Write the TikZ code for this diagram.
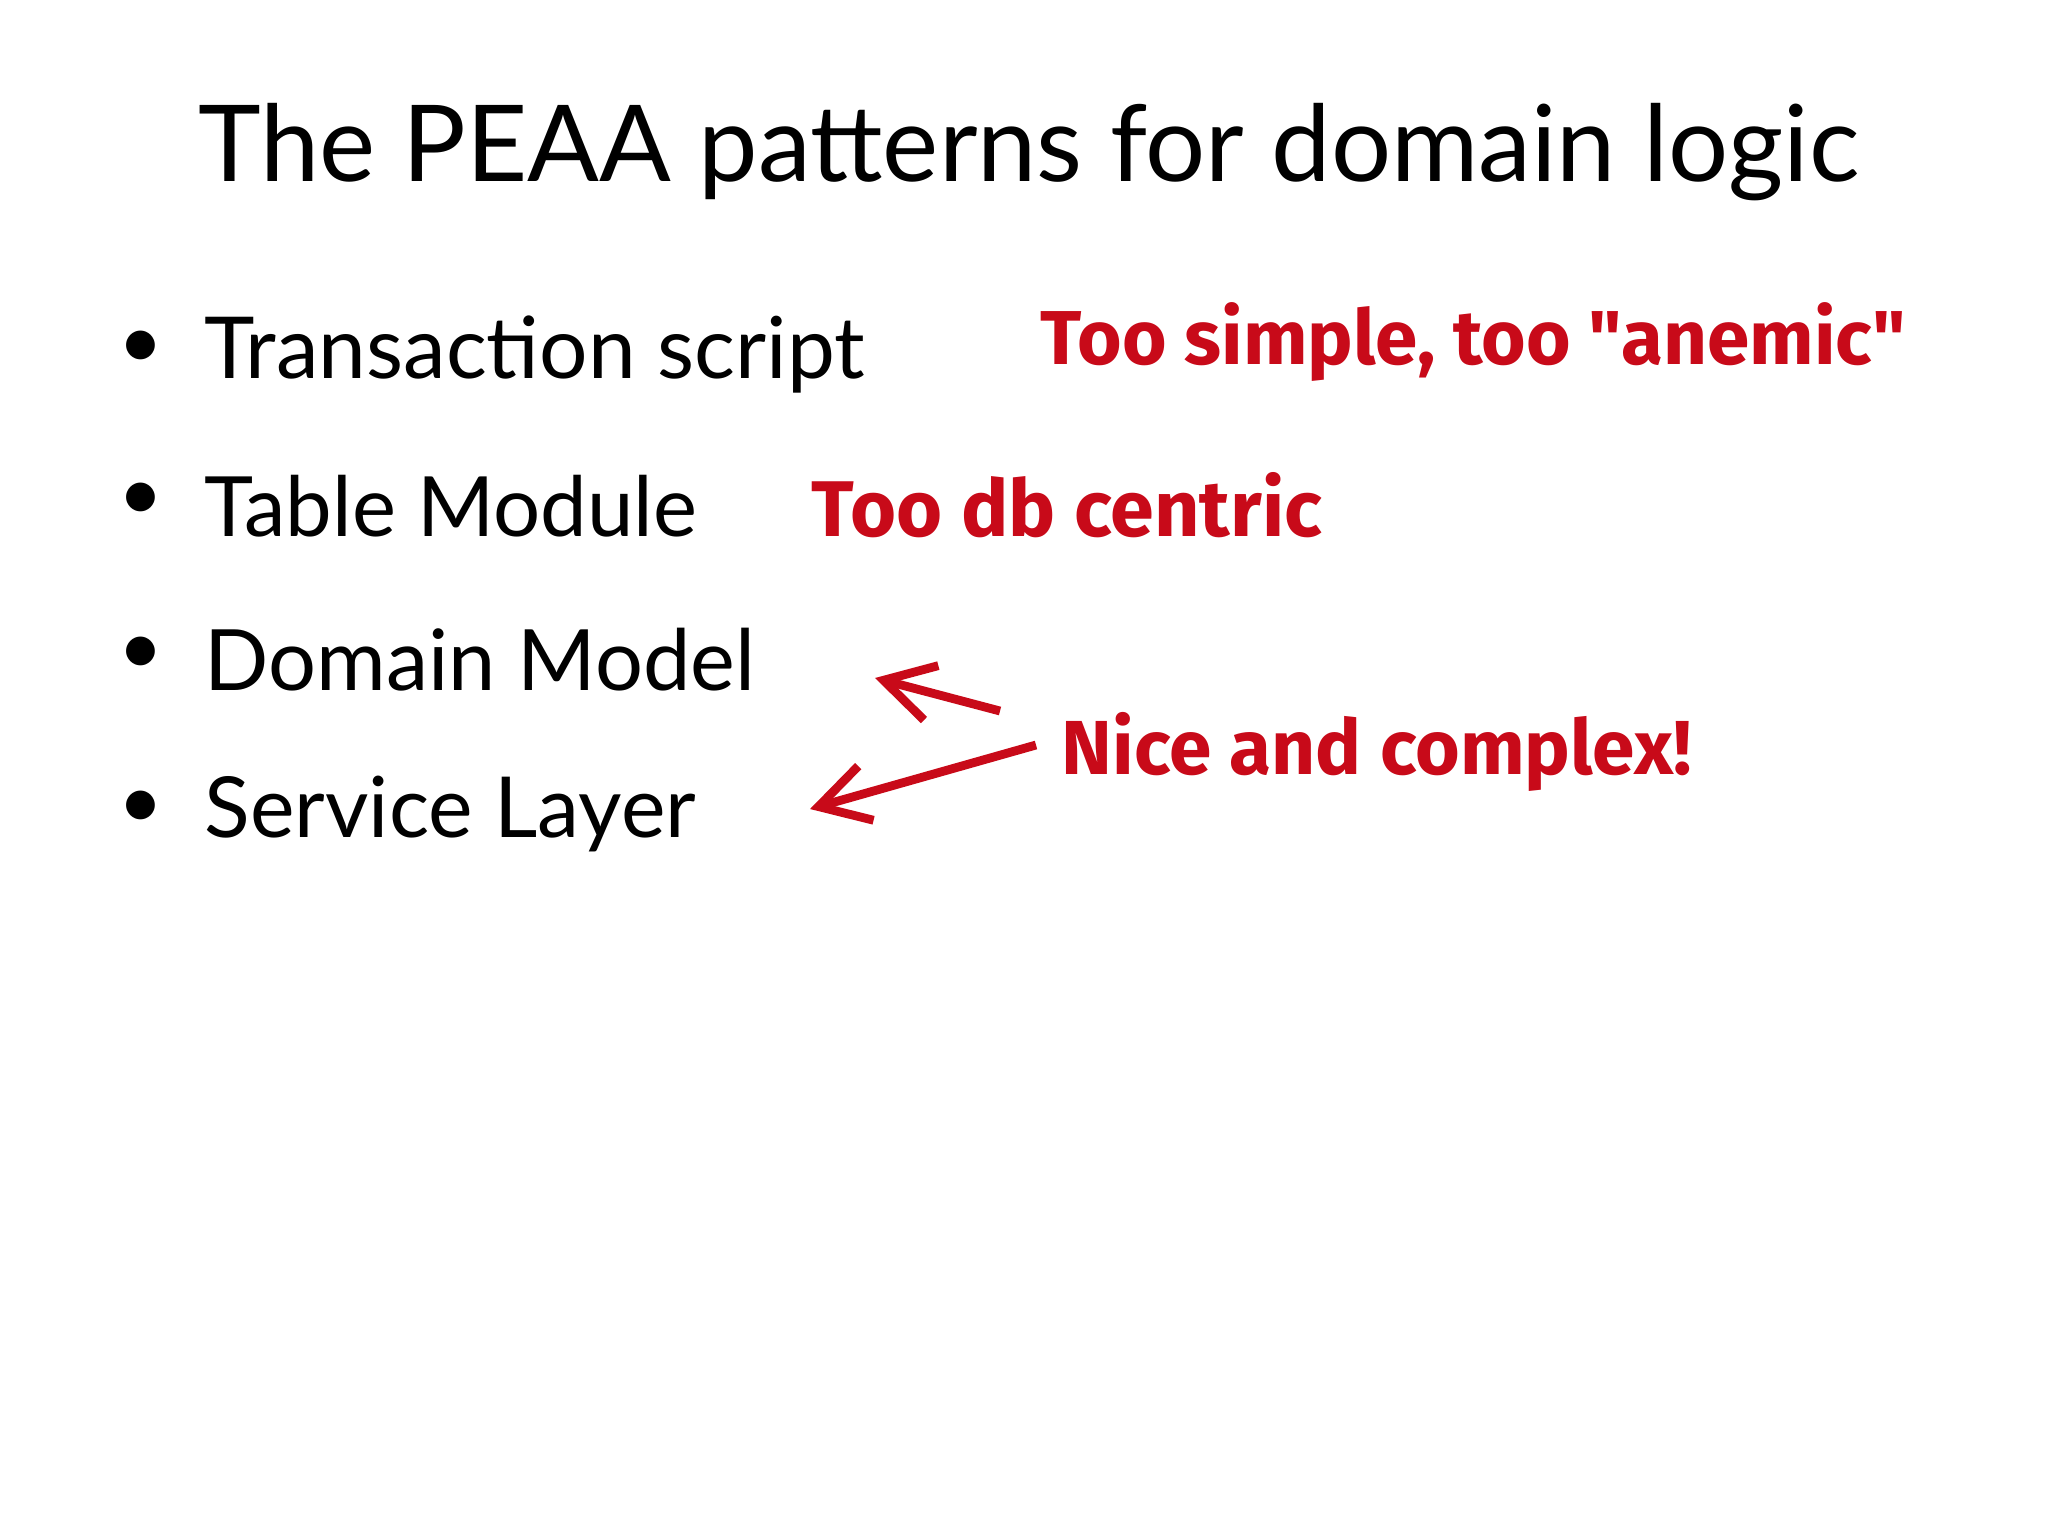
\documentclass[tikz,border=0pt]{standalone}
\usepackage{fontspec}
\setmainfont{Lato}
\newfontfamily\hand{Fira Sans}
\definecolor{hred}{RGB}{200,10,25}
\usetikzlibrary{arrows.meta}
\begin{document}
\begin{tikzpicture}[x=0.01cm,y=-0.01cm,
  item/.style={anchor=west,inner sep=0pt,font=\fontsize{29}{34}\selectfont},
  note/.style={anchor=center,inner sep=0pt,text=hred,font=\hand\bfseries},
  arr/.style={draw=hred,line width=2.5pt,-{Straight Barb[length=14pt,width=16pt]}}]
\path[use as bounding box] (0,0) rectangle (2048,1536);
\node[inner sep=0pt,anchor=center] (title) at (1029,152) {\resizebox{16.6cm}{!}{\fontsize{33}{40}\selectfont The PEAA patterns for domain logic}};
\foreach \n/\t/\w/\y in {b1/Transaction script/6.6/354,b2/Table Module/4.92/506,b3/Domain Model/5.5/660,b4/Service Layer/4.91/814}{
  \node[inner sep=0pt] (dot\n) at (141,\y-4) {\fontsize{22}{26}\selectfont\textbullet};
  \node[item] (\n) at (204,\y) {\resizebox{\w cm}{!}{\t}};
}
\node[note] (n1) at (1473,342) {\resizebox{8.65cm}{!}{Too simple, too "anemic"}};
\node[note] (n2) at (1067,505) {\resizebox{5.1cm}{!}{Too db centric}};
\node[note] (n3) at (1377,752) {\resizebox{6.3cm}{!}{Nice and complex!}};
\coordinate (a1s) at (1000,711);
\coordinate (a1e) at (875,678);
\coordinate (a2s) at (1036,745);
\coordinate (a2e) at (810,809);
\draw[arr] (a1s) -- (a1e);
\draw[arr] (a2s) -- (a2e);
\end{tikzpicture}
\end{document}
